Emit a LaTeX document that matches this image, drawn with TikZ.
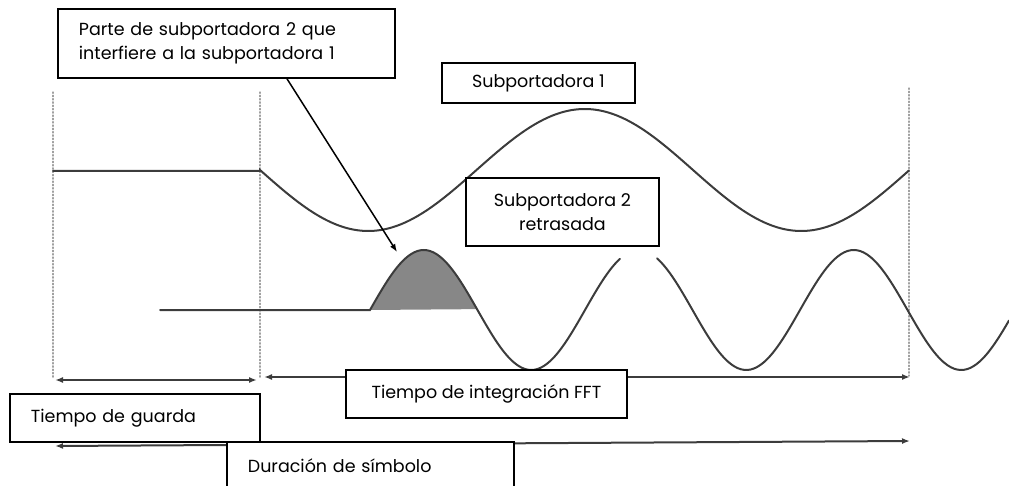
\documentclass[tikz,border=0pt]{standalone}
\usepackage{fontspec}
\setmainfont{Poppins}
\usetikzlibrary{arrows.meta}
\definecolor{onda}{RGB}{60,60,60}
\definecolor{guia}{RGB}{160,160,160}
\definecolor{sombra}{RGB}{135,135,135}

\tikzset{
  caja/.style={draw=black, line width=1.8pt, fill=white, inner sep=0pt, anchor=north west,
    font=\fontsize{17.5}{24}\selectfont},
  cajaizq/.style={caja, align=left, inner xsep=21pt},
  guialinea/.style={guia, dotted, line width=1.3pt},
  curva/.style={onda, line width=2pt},
  cota/.style={onda, line width=2pt},
}

\begin{document}
\begin{tikzpicture}[x=1pt, y=-1pt, line cap=round, >={Latex[length=8pt,width=6pt]}]
\useasboundingbox (0,0) rectangle (1009,486);

% lineas de guia
\draw[guialinea] (53,92) -- (53,378);
\draw[guialinea] (260,92) -- (260,378);
\draw[guialinea] (909,88) -- (909,376);

% subportadora 1
\draw[curva] (53,171) -- (260,171) -- plot[domain=260:909, samples=120, smooth] (\x,{170+61*sin(0.8314*(\x-260))});

% subportadora 2 retrasada
\fill[sombra] (370,310) -- plot[domain=370:477, samples=40, smooth] (\x,{310-60*sin(1.6744*(\x-370))}) -- cycle;
\draw[curva] (160,310) -- (370,310) -- plot[domain=370:620, samples=80, smooth] (\x,{310-60*sin(1.6744*(\x-370))});
\draw[curva] plot[domain=657:1009, samples=110, smooth] (\x,{310-60*sin(1.6744*(\x-370))});

% cotas
\coordinate (gi) at (55,380);
\coordinate (gd) at (257,380);
\coordinate (fi) at (264,377);
\coordinate (fd) at (910,377);
\coordinate (si) at (55,446);
\coordinate (sd) at (910,441);
\draw[cota, <->] (gi) -- (gd);
\draw[cota, <->] (fi) -- (fd);
\draw[cota, <->] (si) -- (sd);

% cajas de texto
\node[cajaizq, text width=295pt, minimum height=69pt] (interf) at (57,8)
  {Parte de subportadora 2 que\\interfiere a la subportadora 1};
\coordinate (cresta) at (397,252);
\draw[black, line width=1.5pt, ->] ([xshift=230pt]interf.south west) -- (cresta);

\node[caja, minimum width=193pt, minimum height=40pt] (sub1) at (441,62) {Subportadora 1};
\node[caja, align=center, minimum width=193pt, minimum height=68pt] (sub2) at (465,177)
  {Subportadora 2\\retrasada};
\node[caja, minimum width=281pt, minimum height=48pt] (fft) at (345,369) {Tiempo de integración FFT};
\node[cajaizq, text width=208pt, minimum height=48pt] (guarda) at (9,393) {Tiempo de guarda};
\node[cajaizq, text width=245pt, minimum height=48pt] (simbolo) at (226,441) {Duración de símbolo};

\end{tikzpicture}
\end{document}
